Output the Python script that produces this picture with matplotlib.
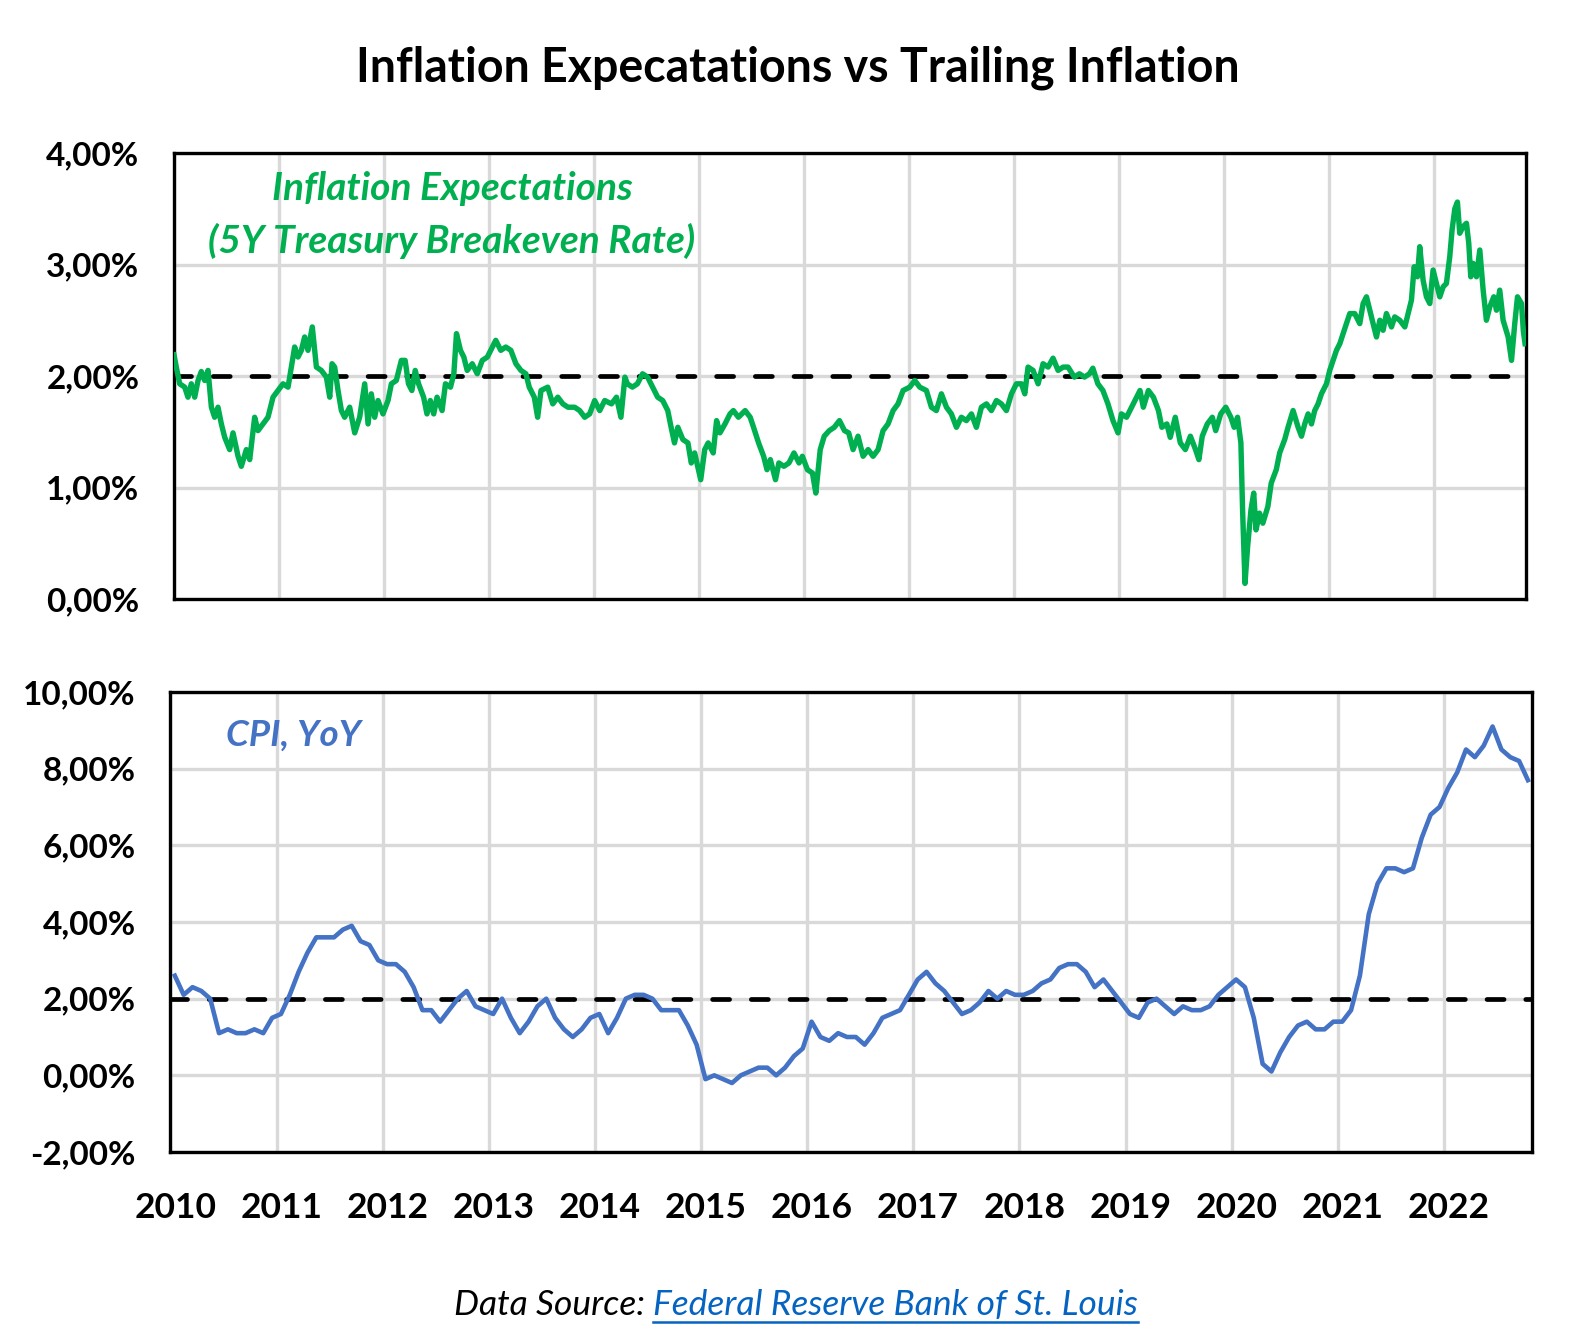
import matplotlib
matplotlib.use('Agg')
import matplotlib.pyplot as plt
from matplotlib.ticker import FuncFormatter, FixedLocator
from matplotlib.lines import Line2D

plt.rcParams['font.family'] = ['Lato', 'DejaVu Sans']

# ---------------- Data ----------------
title = "Inflation Expecatations vs Trailing Inflation"
years = list(range(2010, 2023))

# 5Y breakeven inflation (decimal year, %)
be_t = [2010.000, 2010.022, 2010.054, 2010.102, 2010.133, 2010.165, 2010.197, 2010.229, 2010.260, 2010.292,
        2010.324, 2010.356, 2010.387, 2010.419, 2010.451, 2010.483, 2010.530, 2010.562, 2010.610, 2010.641,
        2010.689, 2010.721, 2010.768, 2010.800, 2010.848, 2010.895, 2010.943, 2010.990, 2011.038, 2011.086,
        2011.117, 2011.149, 2011.181, 2011.213, 2011.244, 2011.276, 2011.317, 2011.356, 2011.403, 2011.451,
        2011.483, 2011.505, 2011.530, 2011.562, 2011.594, 2011.625, 2011.673, 2011.721, 2011.768, 2011.816,
        2011.848, 2011.879, 2011.911, 2011.943, 2011.990, 2012.038, 2012.070, 2012.117, 2012.165, 2012.201,
        2012.233, 2012.265, 2012.297, 2012.329, 2012.377, 2012.409, 2012.441, 2012.473, 2012.505, 2012.553,
        2012.585, 2012.633, 2012.665, 2012.690, 2012.728, 2012.760, 2012.792, 2012.840, 2012.888, 2012.936,
        2012.984, 2013.032, 2013.064, 2013.112, 2013.160, 2013.208, 2013.256, 2013.304, 2013.351, 2013.383,
        2013.431, 2013.463, 2013.495, 2013.559, 2013.607, 2013.655, 2013.703, 2013.751, 2013.815, 2013.863,
        2013.911, 2013.958, 2014.006, 2014.054, 2014.102, 2014.166, 2014.214, 2014.256, 2014.294, 2014.317,
        2014.365, 2014.413, 2014.462, 2014.510, 2014.558, 2014.606, 2014.654, 2014.702, 2014.734, 2014.766,
        2014.798, 2014.846, 2014.894, 2014.926, 2014.958, 2015.016, 2015.054, 2015.087, 2015.135, 2015.167,
        2015.199, 2015.247, 2015.295, 2015.327, 2015.375, 2015.439, 2015.487, 2015.519, 2015.567, 2015.615,
        2015.647, 2015.679, 2015.728, 2015.760, 2015.808, 2015.856, 2015.904, 2015.952, 2015.984, 2016.032,
        2016.080, 2016.112, 2016.154, 2016.192, 2016.240, 2016.288, 2016.337, 2016.385, 2016.425, 2016.467,
        2016.514, 2016.562, 2016.610, 2016.657, 2016.705, 2016.752, 2016.800, 2016.848, 2016.895, 2016.943,
        2017.006, 2017.054, 2017.102, 2017.165, 2017.213, 2017.260, 2017.308, 2017.356, 2017.403, 2017.451,
        2017.498, 2017.546, 2017.594, 2017.641, 2017.689, 2017.737, 2017.784, 2017.832, 2017.879, 2017.927,
        2017.975, 2018.022, 2018.070, 2018.102, 2018.133, 2018.181, 2018.229, 2018.276, 2018.324, 2018.371,
        2018.419, 2018.467, 2018.514, 2018.574, 2018.622, 2018.670, 2018.718, 2018.750, 2018.798, 2018.846,
        2018.894, 2018.942, 2018.990, 2019.022, 2019.071, 2019.119, 2019.167, 2019.199, 2019.231, 2019.279,
        2019.327, 2019.375, 2019.407, 2019.455, 2019.487, 2019.535, 2019.583, 2019.631, 2019.679, 2019.728,
        2019.760, 2019.792, 2019.840, 2019.888, 2019.920, 2019.968, 2020.016, 2020.064, 2020.096, 2020.128,
        2020.160, 2020.176, 2020.199, 2020.224, 2020.256, 2020.282, 2020.304, 2020.337, 2020.369, 2020.417,
        2020.449, 2020.497, 2020.529, 2020.577, 2020.609, 2020.657, 2020.705, 2020.737, 2020.768, 2020.800,
        2020.832, 2020.863, 2020.895, 2020.927, 2020.975, 2021.006, 2021.038, 2021.070, 2021.102, 2021.133,
        2021.165, 2021.197, 2021.244, 2021.292, 2021.324, 2021.356, 2021.387, 2021.419, 2021.451, 2021.483,
        2021.514, 2021.546, 2021.594, 2021.625, 2021.673, 2021.721, 2021.752, 2021.784, 2021.810, 2021.841,
        2021.863, 2021.895, 2021.927, 2021.959, 2021.990, 2022.022, 2022.054, 2022.086, 2022.117, 2022.149,
        2022.171, 2022.197, 2022.222, 2022.244, 2022.276, 2022.308, 2022.330, 2022.349, 2022.371, 2022.403,
        2022.435, 2022.467, 2022.498, 2022.530, 2022.568, 2022.594, 2022.625, 2022.657, 2022.705, 2022.737,
        2022.768, 2022.794, 2022.832, 2022.850, 2022.866]
be_v = [2.19, 2.08, 1.93, 1.90, 1.81, 1.93, 1.81, 1.96, 2.04, 1.96,
        2.05, 1.72, 1.63, 1.72, 1.57, 1.45, 1.34, 1.49, 1.28, 1.19,
        1.34, 1.25, 1.63, 1.51, 1.57, 1.63, 1.81, 1.87, 1.93, 1.90,
        2.08, 2.26, 2.17, 2.23, 2.35, 2.23, 2.44, 2.08, 2.05, 1.99,
        1.81, 2.11, 2.08, 1.87, 1.69, 1.63, 1.72, 1.49, 1.63, 1.93,
        1.57, 1.84, 1.63, 1.78, 1.66, 1.78, 1.93, 1.96, 2.14, 2.14,
        1.93, 1.87, 2.05, 1.93, 1.81, 1.66, 1.78, 1.66, 1.81, 1.69,
        1.93, 1.90, 2.02, 2.38, 2.23, 2.17, 2.05, 2.11, 2.02, 2.14,
        2.17, 2.26, 2.32, 2.23, 2.26, 2.23, 2.11, 2.05, 2.02, 1.90,
        1.81, 1.63, 1.87, 1.90, 1.75, 1.81, 1.75, 1.72, 1.72, 1.69,
        1.63, 1.66, 1.78, 1.69, 1.78, 1.75, 1.81, 1.63, 1.99, 1.93,
        1.90, 1.93, 2.02, 1.99, 1.90, 1.81, 1.78, 1.69, 1.54, 1.40,
        1.54, 1.43, 1.40, 1.22, 1.31, 1.07, 1.34, 1.40, 1.31, 1.60,
        1.49, 1.57, 1.66, 1.69, 1.63, 1.69, 1.63, 1.54, 1.40, 1.28,
        1.16, 1.25, 1.07, 1.22, 1.19, 1.22, 1.31, 1.22, 1.28, 1.16,
        1.13, 0.95, 1.34, 1.46, 1.51, 1.54, 1.60, 1.51, 1.49, 1.34,
        1.46, 1.28, 1.34, 1.28, 1.34, 1.51, 1.57, 1.69, 1.75, 1.87,
        1.90, 1.96, 1.90, 1.87, 1.72, 1.69, 1.84, 1.72, 1.66, 1.54,
        1.63, 1.60, 1.66, 1.54, 1.72, 1.75, 1.69, 1.78, 1.75, 1.69,
        1.84, 1.93, 1.93, 1.84, 2.08, 2.05, 1.93, 2.11, 2.08, 2.16,
        2.05, 2.08, 2.08, 1.99, 2.02, 1.99, 2.02, 2.07, 1.93, 1.87,
        1.75, 1.60, 1.49, 1.66, 1.63, 1.72, 1.81, 1.87, 1.72, 1.87,
        1.81, 1.69, 1.54, 1.57, 1.45, 1.63, 1.40, 1.34, 1.46, 1.34,
        1.25, 1.46, 1.57, 1.63, 1.51, 1.66, 1.72, 1.63, 1.54, 1.63,
        1.40, 0.80, 0.14, 0.47, 0.80, 0.95, 0.62, 0.77, 0.68, 0.83,
        1.04, 1.16, 1.31, 1.43, 1.54, 1.69, 1.54, 1.46, 1.57, 1.66,
        1.57, 1.69, 1.75, 1.84, 1.93, 2.05, 2.14, 2.23, 2.29, 2.38,
        2.47, 2.56, 2.56, 2.47, 2.65, 2.71, 2.59, 2.47, 2.35, 2.50,
        2.41, 2.56, 2.44, 2.53, 2.50, 2.44, 2.56, 2.68, 2.98, 2.89,
        3.16, 2.86, 2.71, 2.65, 2.95, 2.83, 2.71, 2.80, 2.83, 3.07,
        3.31, 3.50, 3.56, 3.28, 3.34, 3.37, 3.19, 2.89, 3.01, 2.89,
        3.13, 2.77, 2.50, 2.62, 2.71, 2.59, 2.77, 2.50, 2.35, 2.14,
        2.47, 2.71, 2.65, 2.40, 2.29]

# CPI YoY, monthly from Jan 2010 to Oct 2022 (%)
cpi_start_year = 2010
cpi_v = [2.6, 2.1, 2.3, 2.2, 2.0, 1.1, 1.2, 1.1, 1.1, 1.2, 1.1, 1.5,
         1.6, 2.1, 2.7, 3.2, 3.6, 3.6, 3.6, 3.8, 3.9, 3.5, 3.4, 3.0,
         2.9, 2.9, 2.7, 2.3, 1.7, 1.7, 1.4, 1.7, 2.0, 2.2, 1.8, 1.7,
         1.6, 2.0, 1.5, 1.1, 1.4, 1.8, 2.0, 1.5, 1.2, 1.0, 1.2, 1.5,
         1.6, 1.1, 1.5, 2.0, 2.1, 2.1, 2.0, 1.7, 1.7, 1.7, 1.3, 0.8,
         -0.1, 0.0, -0.1, -0.2, 0.0, 0.1, 0.2, 0.2, 0.0, 0.2, 0.5, 0.7,
         1.4, 1.0, 0.9, 1.1, 1.0, 1.0, 0.8, 1.1, 1.5, 1.6, 1.7, 2.1,
         2.5, 2.7, 2.4, 2.2, 1.9, 1.6, 1.7, 1.9, 2.2, 2.0, 2.2, 2.1,
         2.1, 2.2, 2.4, 2.5, 2.8, 2.9, 2.9, 2.7, 2.3, 2.5, 2.2, 1.9,
         1.6, 1.5, 1.9, 2.0, 1.8, 1.6, 1.8, 1.7, 1.7, 1.8, 2.1, 2.3,
         2.5, 2.3, 1.5, 0.3, 0.1, 0.6, 1.0, 1.3, 1.4, 1.2, 1.2, 1.4,
         1.4, 1.7, 2.6, 4.2, 5.0, 5.4, 5.4, 5.3, 5.4, 6.2, 6.8, 7.0,
         7.5, 7.9, 8.5, 8.3, 8.6, 9.1, 8.5, 8.3, 8.2, 7.7]

target = 2.0
top_yticks = [0, 1, 2, 3, 4]
bot_yticks = [-2, 0, 2, 4, 6, 8, 10]

GREEN = '#00B050'
BLUE = '#4472C4'
GRID = '#D9D9D9'

# ---------------- Figure ----------------
W, H = 1577, 1341
fig = plt.figure(figsize=(W / 100, H / 100), dpi=100)

def fx(px):
    return px / W

def fy(py):
    return 1 - py / H

ax1 = fig.add_axes([fx(174), fy(599), fx(1526) - fx(174), fy(153) - fy(599)])
ax2 = fig.add_axes([fx(170.4), fy(1152), fx(1532) - fx(170.4), fy(692) - fy(1152)])

pct = FuncFormatter(lambda v, p: ('%.2f' % v).replace('.', ',') + '%')

for ax in (ax1, ax2):
    ax.xaxis.set_major_locator(FixedLocator(years))
    ax.grid(True, which='major', color=GRID, linewidth=2.4, zorder=0)
    ax.set_axisbelow(True)
    for s in ax.spines.values():
        s.set_linewidth(2.4)
        s.set_color('black')
    ax.tick_params(axis='both', which='both', length=0)
    ax.yaxis.set_major_formatter(pct)
    ax.axhline(target, color='black', linewidth=3.4, linestyle=(0, (3.6, 4.6)),
               dash_capstyle='round', zorder=3)

# Top panel
ax1.plot(be_t, be_v, color=GREEN, linewidth=3.9, solid_joinstyle='round', zorder=4)
ax1.set_xlim(2010.0, 2022.875)
ax1.set_ylim(0, 4)
ax1.set_yticks(top_yticks)
ax1.set_xticklabels([])
ax1.tick_params(axis='y', pad=25, labelsize=24)
for lab in ax1.get_yticklabels():
    lab.set_fontweight('bold')

# Bottom panel
cpi_x = [cpi_start_year + (i + 0.5) / 12 for i in range(len(cpi_v))]
ax2.plot(cpi_x, cpi_v, color=BLUE, linewidth=3.3, solid_joinstyle='round', zorder=4)
ax2.set_xlim(2010.0, 2022.83)
ax2.set_ylim(-2, 10)
ax2.set_yticks(bot_yticks)
ax2.tick_params(axis='y', pad=25, labelsize=24)
for lab in ax2.get_yticklabels():
    lab.set_fontweight('bold')
ax2.set_xticklabels([])
ax2.xaxis.set_minor_locator(FixedLocator([y + 0.045 for y in years]))
ax2.set_xticklabels([str(y) for y in years], minor=True)
ax2.tick_params(axis='x', which='minor', pad=29, labelsize=25.5, length=0)
for lab in ax2.get_xticklabels(minor=True):
    lab.set_fontweight('bold')

# Texts
fig.text(fx(798), fy(68), title, ha='center', va='center', fontsize=33.5, fontweight='bold')
fig.text(fx(452), fy(188), 'Inflation Expectations', ha='center', va='center',
         fontsize=28, fontweight='bold', style='italic', color=GREEN)
fig.text(fx(452), fy(241), '(5Y Treasury Breakeven Rate)', ha='center', va='center',
         fontsize=28, fontweight='bold', style='italic', color=GREEN)
fig.text(fx(226), fy(735), 'CPI, YoY', ha='left', va='center',
         fontsize=26.5, fontweight='bold', style='italic', color=BLUE)

t1 = fig.text(fx(645), fy(1305), 'Data Source:', ha='right', va='center',
              fontsize=25.5, style='italic', color='black')
t2 = fig.text(fx(653), fy(1305), 'Federal Reserve Bank of St. Louis', ha='left', va='center',
              fontsize=25.5, style='italic', color='#0563C1')
fig.canvas.draw()
bb = t2.get_window_extent(renderer=fig.canvas.get_renderer())
fig.add_artist(Line2D([bb.x0 / W, bb.x1 / W], [fy(1322), fy(1322)],
                      transform=fig.transFigure, color='#0563C1', linewidth=1.8))

fig.savefig('out.png', dpi=100)
